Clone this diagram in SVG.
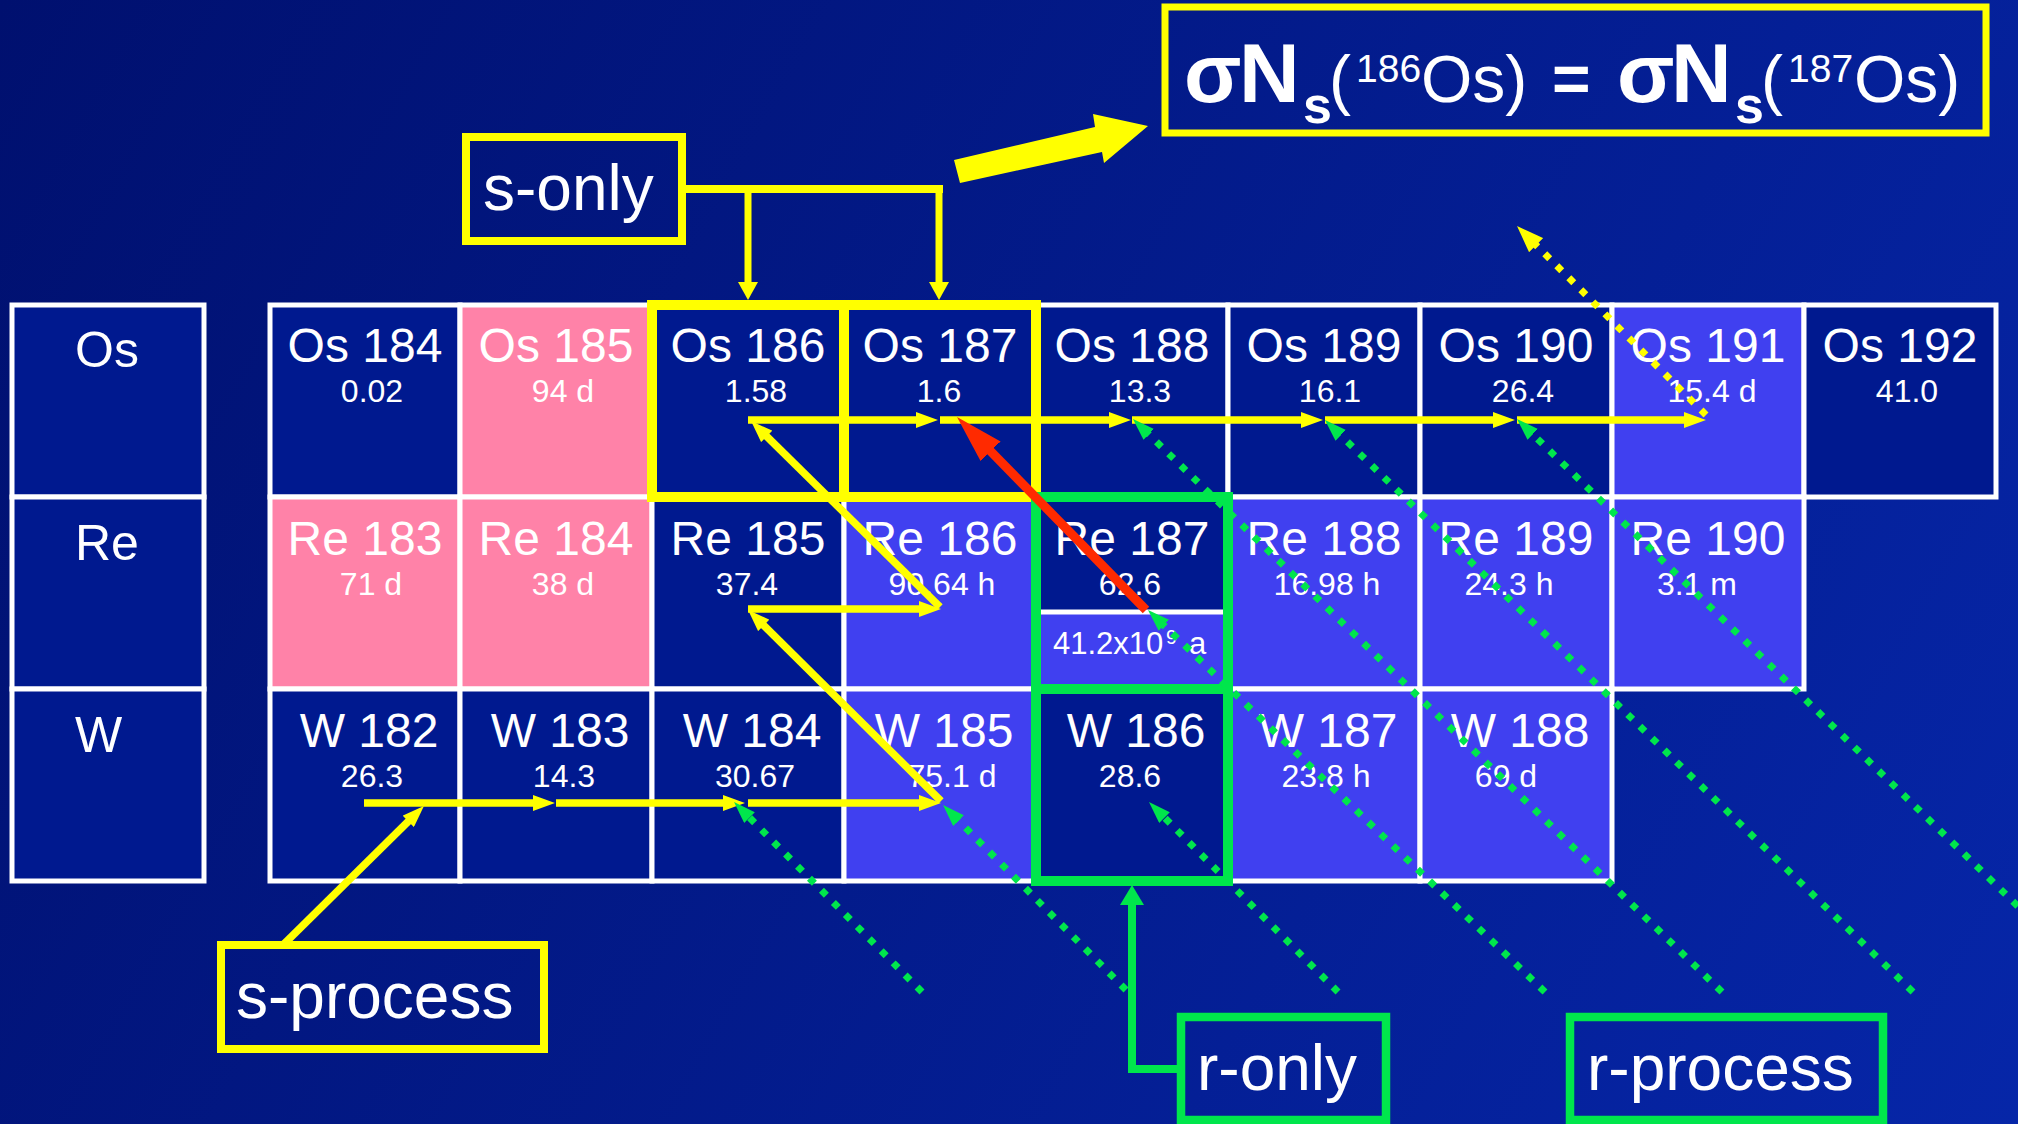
<svg xmlns="http://www.w3.org/2000/svg" width="2018" height="1124" viewBox="0 0 2018 1124">
<defs>
<linearGradient id="bg" gradientUnits="userSpaceOnUse" x1="0" y1="0" x2="2018" y2="1124">
<stop offset="0" stop-color="#00106f"/><stop offset="1" stop-color="#0626a8"/>
</linearGradient>
<marker id="ay" markerUnits="userSpaceOnUse" viewBox="0 0 22 16" refX="2" refY="8" markerWidth="22" markerHeight="16" orient="auto"><path d="M0,0L22,8L0,16z" fill="#ffff00"/></marker>
<marker id="ay2" markerUnits="userSpaceOnUse" viewBox="0 0 18 20" refX="2" refY="10" markerWidth="18" markerHeight="20" orient="auto"><path d="M0,0L18,10L0,20z" fill="#ffff00"/></marker>
<marker id="ayd" markerUnits="userSpaceOnUse" viewBox="0 0 27 20" refX="2" refY="10" markerWidth="27" markerHeight="20" orient="auto"><path d="M0,0L27,10L0,20z" fill="#ffff00"/></marker>
<marker id="ag" markerUnits="userSpaceOnUse" viewBox="0 0 22 15" refX="2" refY="7.5" markerWidth="22" markerHeight="15" orient="auto"><path d="M0,0L22,7.5L0,15z" fill="#00e64c"/></marker>
<marker id="ag2" markerUnits="userSpaceOnUse" viewBox="0 0 20 24" refX="2" refY="12" markerWidth="20" markerHeight="24" orient="auto"><path d="M0,0L20,12L0,24z" fill="#00e64c"/></marker>
<marker id="ar" markerUnits="userSpaceOnUse" viewBox="0 0 48 28" refX="4" refY="14" markerWidth="48" markerHeight="28" orient="auto"><path d="M0,0L48,14L0,28z" fill="#ff2a00"/></marker>
</defs>
<style>
.t{font-family:"Liberation Sans",Arial,sans-serif;fill:#ffffff}
.m{font-size:48px;text-anchor:middle}
.s{font-size:32px;text-anchor:middle}
.lab{font-size:50px}
.bt{font-size:64px}
.dk{fill:#00198f;stroke:#ffffff;stroke-width:5}
.pk{fill:#ff82a8;stroke:#ffffff;stroke-width:5}
.pu{fill:#4040f0;stroke:#ffffff;stroke-width:5}
.hy{fill:none;stroke:#ffff00;stroke-width:10}
.hg{fill:none;stroke:#00e64c;stroke-width:10}
.by{fill:none;stroke:#ffff00;stroke-width:8}
.bg2{fill:none;stroke:#00e64c;stroke-width:8.5}
.ys{fill:none;stroke:#ffff00;stroke-width:7.5}
.gd{fill:none;stroke:#00e64c;stroke-width:7;stroke-dasharray:7 10}
.yd{fill:none;stroke:#ffff00;stroke-width:7;stroke-dasharray:7 10}
</style>
<rect x="0" y="0" width="2018" height="1124" fill="url(#bg)"/>

<g id="labels">
<g id="lab-os"><rect class="dk" x="12" y="305" width="192" height="192"/><text class="t lab" x="75" y="367">Os</text></g>
<g id="lab-re"><rect class="dk" x="12" y="497" width="192" height="192"/><text class="t lab" x="75" y="560">Re</text></g>
<g id="lab-w"><rect class="dk" x="12" y="689" width="192" height="192"/><text class="t lab" x="75" y="752">W</text></g>
</g>

<g id="os-row">
<g id="os184"><rect class="dk" x="270" y="305" width="190" height="192"/><text class="t m" x="365" y="362">Os 184</text><text class="t s" x="372" y="402">0.02</text></g>
<g id="os185"><rect class="pk" x="460" y="305" width="192" height="192"/><text class="t m" x="556" y="362">Os 185</text><text class="t s" x="563" y="402">94 d</text></g>
<g id="os186"><rect class="dk" x="652" y="305" width="192" height="192"/><text class="t m" x="748" y="362">Os 186</text><text class="t s" x="756" y="402">1.58</text></g>
<g id="os187"><rect class="dk" x="844" y="305" width="192" height="192"/><text class="t m" x="940" y="362">Os 187</text><text class="t s" x="939" y="402">1.6</text></g>
<g id="os188"><rect class="dk" x="1036" y="305" width="192" height="192"/><text class="t m" x="1132" y="362">Os 188</text><text class="t s" x="1140" y="402">13.3</text></g>
<g id="os189"><rect class="dk" x="1228" y="305" width="192" height="192"/><text class="t m" x="1324" y="362">Os 189</text><text class="t s" x="1330" y="402">16.1</text></g>
<g id="os190"><rect class="dk" x="1420" y="305" width="192" height="192"/><text class="t m" x="1516" y="362">Os 190</text><text class="t s" x="1523" y="402">26.4</text></g>
<g id="os191"><rect class="pu" x="1612" y="305" width="192" height="192"/><text class="t m" x="1708" y="362">Os 191</text><text class="t s" x="1712" y="402">15.4 d</text></g>
<g id="os192"><rect class="dk" x="1804" y="305" width="192" height="192"/><text class="t m" x="1900" y="362">Os 192</text><text class="t s" x="1907" y="402">41.0</text></g>
</g>

<g id="re-row">
<g id="re183"><rect class="pk" x="270" y="497" width="190" height="192"/><text class="t m" x="365" y="555">Re 183</text><text class="t s" x="371" y="595">71 d</text></g>
<g id="re184"><rect class="pk" x="460" y="497" width="192" height="192"/><text class="t m" x="556" y="555">Re 184</text><text class="t s" x="563" y="595">38 d</text></g>
<g id="re185"><rect class="dk" x="652" y="497" width="192" height="192"/><text class="t m" x="748" y="555">Re 185</text><text class="t s" x="747" y="595">37.4</text></g>
<g id="re186"><rect class="pu" x="844" y="497" width="192" height="192"/><text class="t m" x="940" y="555">Re 186</text><text class="t s" x="942" y="595">90.64 h</text></g>
<g id="re187"><rect class="dk" x="1036" y="497" width="192" height="192"/><rect class="pu" x="1036" y="612" width="192" height="77"/><text class="t m" x="1132" y="555">Re 187</text><text class="t s" x="1130" y="595">62.6</text><text class="t" font-size="31" y="654"><tspan x="1053">41.2x10</tspan><tspan x="1166" y="644" font-size="20">9</tspan><tspan x="1189" y="654">a</tspan></text></g>
<g id="re188"><rect class="pu" x="1228" y="497" width="192" height="192"/><text class="t m" x="1324" y="555">Re 188</text><text class="t s" x="1327" y="595">16.98 h</text></g>
<g id="re189"><rect class="pu" x="1420" y="497" width="192" height="192"/><text class="t m" x="1516" y="555">Re 189</text><text class="t s" x="1509" y="595">24.3 h</text></g>
<g id="re190"><rect class="pu" x="1612" y="497" width="192" height="192"/><text class="t m" x="1708" y="555">Re 190</text><text class="t s" x="1697" y="595">3.1 m</text></g>
</g>

<g id="w-row">
<g id="w182"><rect class="dk" x="270" y="689" width="190" height="192"/><text class="t m" x="369" y="747">W 182</text><text class="t s" x="372" y="787">26.3</text></g>
<g id="w183"><rect class="dk" x="460" y="689" width="192" height="192"/><text class="t m" x="560" y="747">W 183</text><text class="t s" x="564" y="787">14.3</text></g>
<g id="w184"><rect class="dk" x="652" y="689" width="192" height="192"/><text class="t m" x="752" y="747">W 184</text><text class="t s" x="755" y="787">30.67</text></g>
<g id="w185"><rect class="pu" x="844" y="689" width="192" height="192"/><text class="t m" x="944" y="747">W 185</text><text class="t s" x="952" y="787">75.1 d</text></g>
<g id="w186"><rect class="dk" x="1036" y="689" width="192" height="192"/><text class="t m" x="1136" y="747">W 186</text><text class="t s" x="1130" y="787">28.6</text></g>
<g id="w187"><rect class="pu" x="1228" y="689" width="192" height="192"/><text class="t m" x="1328" y="747">W 187</text><text class="t s" x="1326" y="787">23.8 h</text></g>
<g id="w188"><rect class="pu" x="1420" y="689" width="192" height="192"/><text class="t m" x="1520" y="747">W 188</text><text class="t s" x="1506" y="787">69 d</text></g>
</g>

<g id="highlights">
<rect class="hy" x="652" y="305" width="192" height="192"/>
<rect class="hy" x="844" y="305" width="192" height="192"/>
<rect class="hg" x="1036" y="497" width="192" height="192"/>
<rect class="hg" x="1036" y="689" width="192" height="192"/>
</g>

<g id="connectors">
<path class="ys" style="stroke-width:8" d="M686,189H943"/>
<path class="ys" style="stroke-width:7" d="M748,189V284" marker-end="url(#ay2)"/>
<path class="ys" style="stroke-width:7" d="M939,189V284" marker-end="url(#ay2)"/>
<polygon points="954,160 1095,127 1093,114 1148,126 1104,163 1102,152 960,183" fill="#ffff00"/>
<path class="ys" d="M748,420H918" marker-end="url(#ay)"/>
<path class="ys" d="M940,420H1111" marker-end="url(#ay)"/>
<path class="ys" d="M1132,420H1303" marker-end="url(#ay)"/>
<path class="ys" d="M1325,420H1495" marker-end="url(#ay)"/>
<path class="ys" d="M1517,420H1686" marker-end="url(#ay)"/>
<path class="ys" d="M748,609H921" marker-end="url(#ay)"/>
<path class="ys" d="M364,803H535" marker-end="url(#ay)"/>
<path class="ys" d="M556,803H725" marker-end="url(#ay)"/>
<path class="ys" d="M748,803H921" marker-end="url(#ay)"/>
<path class="ys" d="M941,801L762.3,624" marker-end="url(#ay)"/>
<path class="ys" d="M940,607L765.3,435" marker-end="url(#ay)"/>
<path class="ys" d="M283,945L409.7,820" marker-end="url(#ay)"/>
<path fill="none" stroke="#ff2a00" stroke-width="9" d="M1146,610L987.8,448.4" marker-end="url(#ar)"/>
<path class="yd" d="M1706,415L1534.7,243.7" marker-end="url(#ayd)"/>
<path class="gd" d="M922,992L748.1,816.2" marker-end="url(#ag)"/>
<path class="gd" d="M1126,990L957.1,819.2" marker-end="url(#ag)"/>
<path class="gd" d="M1338,992L1163.1,816.2" marker-end="url(#ag)"/>
<path class="gd" d="M1545,992L1162.4,623.9" marker-end="url(#ag)"/>
<path class="gd" d="M1722,992L1147.3,432.9" marker-end="url(#ag)"/>
<path class="gd" d="M1913,992L1339.3,433.9" marker-end="url(#ag)"/>
<path class="gd" d="M2030,918L1531.3,432.9" marker-end="url(#ag)"/>
<path fill="none" stroke="#00e64c" stroke-width="8" d="M1181,1069H1132V903" marker-end="url(#ag2)"/>
</g>

<g id="s-only"><rect class="by" x="466" y="137" width="216" height="104"/><text class="t bt" x="483" y="210">s-only</text></g>
<g id="s-process"><rect class="by" x="221" y="945" width="323" height="104"/><text class="t bt" x="236" y="1018">s-process</text></g>
<g id="r-only"><rect class="bg2" x="1181" y="1017" width="205" height="103"/><text class="t bt" x="1197" y="1090">r-only</text></g>
<g id="r-process"><rect class="bg2" x="1570" y="1017" width="313" height="103"/><text class="t bt" x="1587" y="1090">r-process</text></g>
<g id="formula"><rect fill="none" stroke="#ffff00" stroke-width="7" x="1165" y="7" width="821" height="126"/>
<text class="t" font-size="84" font-weight="bold" y="102"><tspan x="1184">σ</tspan><tspan x="1239">N</tspan><tspan x="1303" y="123" font-size="52">s</tspan><tspan x="1329" y="102" font-size="66" font-weight="normal">(</tspan><tspan x="1356" y="82" font-size="39" font-weight="normal">186</tspan><tspan x="1421" y="102" font-size="66" font-weight="normal">Os)</tspan><tspan x="1552" font-size="66">=</tspan><tspan x="1617" font-size="84">σ</tspan><tspan x="1671">N</tspan><tspan x="1735" y="123" font-size="52">s</tspan><tspan x="1761" y="102" font-size="66" font-weight="normal">(</tspan><tspan x="1788" y="82" font-size="39" font-weight="normal">187</tspan><tspan x="1854" y="102" font-size="66" font-weight="normal">Os)</tspan></text></g>
</svg>
